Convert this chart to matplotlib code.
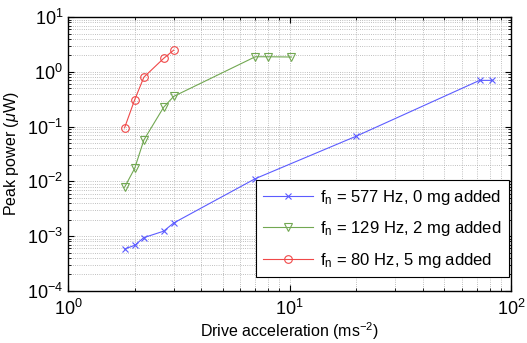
import numpy as np
import matplotlib
matplotlib.use('Agg')
import matplotlib.pyplot as plt

plt.rcParams['font.family'] = ['Liberation Sans', 'DejaVu Sans']
plt.rcParams['mathtext.fontset'] = 'custom'
plt.rcParams['mathtext.rm'] = 'Liberation Sans'
plt.rcParams['mathtext.it'] = 'Liberation Sans:italic'

# f_n = 577 Hz, 0 mg added
acc_577 = [1.8, 2.0, 2.2, 2.7, 3.0, 7.0, 20.0, 72.0, 82.0]
pow_577 = [0.00058, 0.00068, 0.00094, 0.00123, 0.00174, 0.0112, 0.067, 0.70, 0.70]
# f_n = 129 Hz, 2 mg added
acc_129 = [1.8, 2.0, 2.2, 2.7, 3.0, 7.0, 8.0, 10.2]
pow_129 = [0.0078, 0.0173, 0.057, 0.225, 0.357, 1.89, 1.89, 1.87]
# f_n = 80 Hz, 5 mg added
acc_80 = [1.8, 2.0, 2.2, 2.7, 3.0]
pow_80 = [0.095, 0.31, 0.80, 1.76, 2.5]

labels = ['f$_\\mathrm{n}$ = 577 Hz, 0 mg added',
          'f$_\\mathrm{n}$ = 129 Hz, 2 mg added',
          'f$_\\mathrm{n}$ = 80 Hz, 5 mg added']

fig = plt.figure(figsize=(5.27, 3.43), dpi=100)
ax = fig.add_axes([0.129, 0.152, 0.841, 0.798])

ax.plot(acc_577, pow_577, '-x', color='#5c5cff', lw=0.8, ms=4, mew=0.8, label=labels[0])
ax.plot(acc_129, pow_129, '-v', color='#72a852', lw=0.8, ms=5.5, mew=0.8, mfc='none', label=labels[1])
ax.plot(acc_80, pow_80, '-o', color='#f04848', lw=0.8, ms=5.5, mew=0.8, mfc='none', label=labels[2])

ax.set_xscale('log')
ax.set_yscale('log')
ax.set_xlim(1, 100)
ax.set_ylim(1e-4, 10)

ax.grid(True, which='both', ls=':', color='#aaaaaa', lw=0.6)
ax.tick_params(which='both', direction='in', top=True, right=True, labelsize=13)
ax.tick_params(which='major', length=4)
ax.tick_params(which='minor', length=2)
for s in ax.spines.values():
    s.set_linewidth(1.0)
ax.tick_params(axis='x', pad=6)

ax.set_xlabel('Drive acceleration (ms$^{-2}$)', fontsize=11.5, labelpad=1)
ax.set_ylabel('Peak power ($\\mu$W)', fontsize=11.5)

leg = ax.legend(loc='lower right', bbox_to_anchor=(0.995, 0.05), fontsize=12,
                frameon=True, fancybox=False, edgecolor='black', framealpha=1,
                handlelength=3.0, borderaxespad=0, labelspacing=0.75,
                handletextpad=0.4, borderpad=0.45)
leg.get_frame().set_linewidth(0.8)

plt.savefig('out.png', dpi=100)
